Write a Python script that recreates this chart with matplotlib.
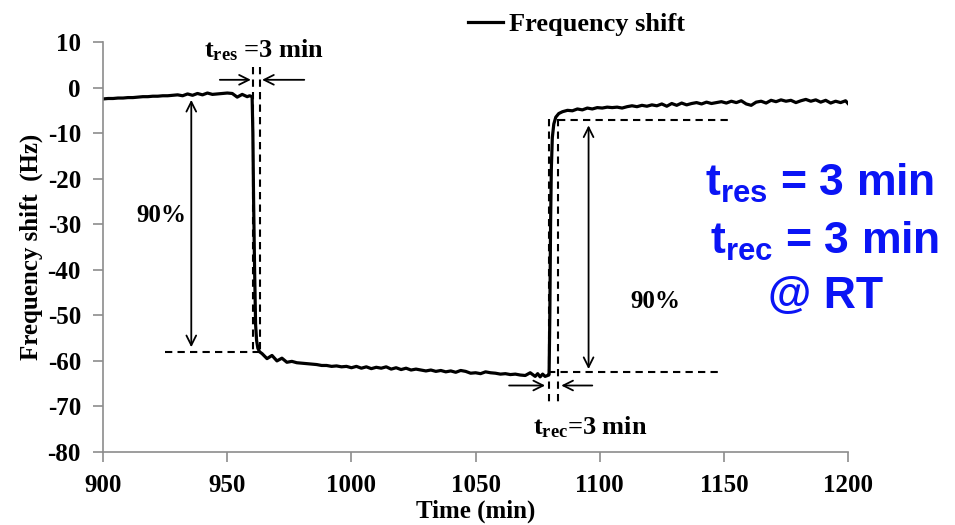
import matplotlib
matplotlib.use("Agg")
import matplotlib.pyplot as plt

#%% data
time_res = [900, 902, 904, 906, 908, 910, 912, 914, 916, 918, 920, 922, 924,
            926, 928, 930, 932, 934, 936, 938, 940, 942, 944, 946, 948, 950,
            952, 954, 956, 958, 959, 960]
shift_res = [-2.5, -2.4, -2.4, -2.3, -2.3, -2.2, -2.2, -2.1, -2.0, -2.0, -1.9,
             -1.9, -1.8, -1.8, -1.7, -1.6, -1.8, -1.4, -1.7, -1.3, -1.6, -1.2,
             -1.5, -1.4, -1.3, -1.2, -1.3, -2.1, -1.5, -2.0, -1.8, -2.0]

time_drop = [960.3, 960.6, 961, 961.4, 961.8, 962.3, 963, 964]
shift_drop = [-10, -25, -40, -52, -55.5, -57.2, -58.0, -58.4]

time_low = [966, 968, 970, 972, 974, 976, 978, 980, 982, 984, 986, 988, 990,
            992, 994, 996, 998, 1000, 1002, 1004, 1006, 1008, 1010, 1012, 1014,
            1016, 1018, 1020, 1022, 1024, 1026, 1028, 1030, 1032, 1034, 1036,
            1038, 1040, 1042, 1044, 1046, 1048, 1050, 1052, 1054, 1056, 1058,
            1060, 1062, 1064, 1066, 1068, 1070, 1072, 1074, 1075, 1076, 1077,
            1078, 1079, 1079.6]
shift_low = [-59.5, -58.8, -60.0, -59.4, -60.3, -60.1, -60.4, -60.5, -60.6,
             -60.7, -60.8, -61.0, -61.0, -61.2, -61.1, -61.3, -61.2, -61.5,
             -61.2, -61.6, -61.3, -61.7, -61.4, -61.6, -61.3, -61.8, -61.5,
             -61.9, -61.6, -62.0, -61.8, -62.0, -62.2, -62.0, -62.3, -62.1,
             -62.4, -62.2, -62.5, -62.1, -62.3, -62.7, -62.6, -62.8, -62.4,
             -62.6, -62.7, -62.9, -62.8, -63.0, -62.9, -63.1, -63.2, -62.6,
             -63.4, -62.8, -63.5, -62.9, -63.4, -63.2, -63.0]

time_rise = [1079.9, 1080.2, 1080.5, 1080.9, 1081.5, 1082.3, 1083.5, 1085]
shift_rise = [-50, -30, -18, -11, -8.0, -6.5, -5.7, -5.3]

time_rec = [1087, 1089, 1091, 1093, 1095, 1097, 1099, 1101, 1103, 1105, 1107,
            1109, 1111, 1113, 1115, 1117, 1119, 1121, 1123, 1125, 1127, 1129,
            1131, 1133, 1135, 1137, 1139, 1141, 1143, 1145, 1147, 1149, 1151,
            1153, 1155, 1157, 1159, 1161, 1163, 1165, 1167, 1169, 1171, 1173,
            1175, 1177, 1179, 1181, 1183, 1185, 1187, 1189, 1191, 1193, 1195,
            1197, 1199, 1200]
shift_rec = [-5.0, -5.1, -4.7, -4.9, -4.5, -4.7, -4.4, -4.5, -4.3, -4.4, -4.3,
             -4.5, -4.2, -4.0, -4.2, -3.9, -4.1, -3.8, -4.0, -3.6, -4.1, -3.5,
             -3.9, -3.4, -3.8, -3.5, -3.3, -3.6, -3.2, -3.5, -3.3, -3.1, -3.4,
             -3.0, -3.3, -2.9, -3.6, -3.9, -3.2, -3.0, -3.4, -2.8, -3.1, -2.7,
             -3.0, -2.8, -3.3, -2.9, -2.6, -3.0, -2.7, -3.2, -2.8, -3.4, -3.0,
             -3.3, -2.9, -3.5]

time = time_res + time_drop + time_low + time_rise + time_rec
shift = shift_res + shift_drop + shift_low + shift_rise + shift_rec

x_ticks = [900, 950, 1000, 1050, 1100, 1150, 1200]
y_ticks = [10, 0, -10, -20, -30, -40, -50, -60, -70, -80]

#%% plot
plt.rcParams['font.family'] = ['Liberation Serif', 'DejaVu Serif']
plt.rcParams['font.weight'] = 'bold'
plt.rcParams['axes.labelweight'] = 'bold'
plt.rcParams['axes.unicode_minus'] = False
plt.rcParams['mathtext.default'] = 'regular'

fig = plt.figure(figsize=(9.55, 5.25), dpi=100)
ax = fig.add_axes([0.108, 0.139, 0.780, 0.781])

ax.plot(time, shift, color='black', lw=2.3, label='Frequency shift')

ax.set_xlim(900, 1200)
ax.set_ylim(-80, 10)
ax.set_xticks(x_ticks)
ax.set_yticks(y_ticks)
ax.tick_params(labelsize=18, length=7, width=1.2, color='#8c8c8c', pad=9)
for s in ['top', 'right']:
    ax.spines[s].set_visible(False)
for s in ['left', 'bottom']:
    ax.spines[s].set_color('#8c8c8c')
    ax.spines[s].set_linewidth(1.2)

ax.set_xlabel('Time (min)', fontsize=18, labelpad=2)
ax.set_ylabel('Frequency shift  (Hz)', fontsize=18, labelpad=3)

ax.legend(loc='upper center', bbox_to_anchor=(0.636, 1.13), frameon=False,
          fontsize=19, handlelength=1.3, handletextpad=0.25)

# dashed guide lines
dash = dict(color='black', lw=1.5, ls=(0, (3.5, 2.5)))
ax.plot([960.2, 960.2], [4.5, -58], **dash)
ax.plot([963, 963], [4.5, -58], **dash)
ax.plot([925, 963], [-58, -58], **dash)
ax.plot([1079.5, 1079.5], [-7, -70], **dash)
ax.plot([1083, 1083], [-7, -70], **dash)
ax.plot([1079, 1148], [-62.5, -62.5], **dash)
ax.plot([1083, 1153], [-7.2, -7.2], **dash)

# arrows
arr2 = dict(arrowstyle='<->,head_length=0.7,head_width=0.35', color='black', lw=1.3,
            shrinkA=0, shrinkB=0)
arr1 = dict(arrowstyle='->,head_length=0.7,head_width=0.35', color='black', lw=1.3,
            shrinkA=0, shrinkB=0)
ax.annotate('', xy=(935.5, -57), xytext=(935.5, -2.7), arrowprops=arr2)
ax.annotate('', xy=(1095.5, -61.8), xytext=(1095.5, -8.3), arrowprops=arr2)
ax.annotate('', xy=(959.5, 1.7), xytext=(947, 1.7), arrowprops=arr1)
ax.annotate('', xy=(964, 1.7), xytext=(981, 1.7), arrowprops=arr1)
ax.annotate('', xy=(1078, -65.4), xytext=(1063.5, -65.4), arrowprops=arr1)
ax.annotate('', xy=(1084.5, -65.4), xytext=(1097, -65.4), arrowprops=arr1)

# annotation text
ax.text(923.5, -28, '90%', fontsize=18, ha='center', va='center')
ax.text(1122.5, -47, '90%', fontsize=18, ha='center', va='center')
ax.text(965, 8.3, '$t_{res}$ =3 min', fontsize=19, ha='center', va='center')
ax.text(1096, -74.5, '$t_{rec}$=3 min', fontsize=19, ha='center', va='center')

blue = dict(color='#0a14f5', fontsize=32, fontweight='bold', ha='center',
            va='center', family=['Liberation Sans', 'DejaVu Sans'])
fig.text(0.858, 0.650, '$t_{res}$ = 3 min', **blue)
fig.text(0.864, 0.541, '$t_{rec}$ = 3 min', **blue)
fig.text(0.864, 0.435, '@ RT', **blue)

fig.savefig('out.png', dpi=100)
